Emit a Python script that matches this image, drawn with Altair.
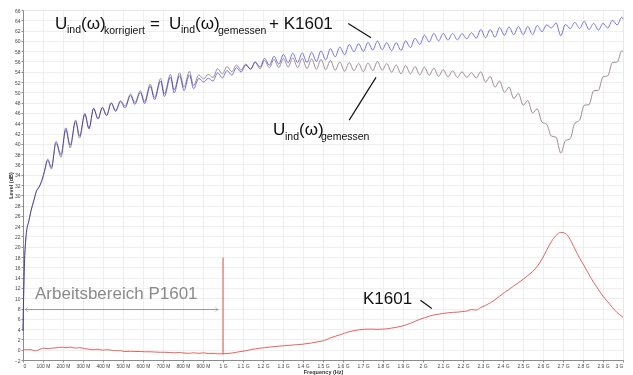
import altair as alt
import pandas as pd

# ---- data ----
freq_mhz = [0, 3, 8, 14, 22, 26, 40, 55, 67, 80, 92, 106, 124, 142, 165, 190, 214, 236, 263, 283,
            309, 330, 353, 375, 397, 418, 441, 463, 488, 510, 538, 559, 587, 608, 636, 658, 688, 707,
            737, 756, 783, 805, 832, 853, 879, 903, 926, 950, 973, 997, 1020, 1044, 1067, 1090, 1114,
            1138, 1161, 1185, 1208, 1232, 1255, 1279, 1302, 1326, 1349, 1373, 1396, 1420, 1443, 1467,
            1490, 1514, 1537, 1561, 1584, 1608, 1631, 1655, 1678, 1702, 1725, 1749, 1772, 1796, 1819,
            1843, 1866, 1890, 1913, 1937, 1960, 1984, 2007, 2031, 2054, 2078, 2101, 2125, 2148, 2172,
            2195, 2219, 2242, 2266, 2289, 2313, 2336, 2360, 2383, 2407, 2430, 2454, 2477, 2501, 2524,
            2548, 2571, 2595, 2618, 2642, 2665, 2689, 2712, 2736, 2759, 2783, 2806, 2830, 2853, 2877,
            2900, 2924, 2947, 2971, 2994, 3000]

u_gemessen = [3.6, 10.0, 17.5, 21.5, 24.0, 24.5, 27.0, 29.2, 30.9, 31.6, 32.5, 34.3, 36.8, 35.1, 40.1,
              37.4, 42.7, 39.2, 44.3, 41.1, 45.7, 42.9, 46.9, 44.8, 47.1, 45.5, 48.0, 46.5, 48.4, 47.3,
              49.7, 48.0, 50.3, 48.2, 51.6, 49.0, 52.7, 49.7, 53.5, 50.5, 53.8, 51.0, 54.1, 51.3, 53.4,
              52.6, 53.5, 52.9, 54.6, 53.6, 55.0, 54.0, 55.3, 54.3, 55.5, 54.5, 55.8, 54.6, 56.2, 54.8,
              56.4, 54.8, 56.6, 54.9, 56.7, 54.8, 56.6, 54.6, 56.5, 54.5, 56.4, 54.4, 56.2, 54.3, 55.9,
              54.1, 55.8, 54.2, 55.6, 54.0, 55.7, 54.2, 56.0, 54.3, 55.6, 53.9, 55.3, 53.6, 55.2, 53.6,
              55.0, 53.4, 54.9, 53.3, 54.7, 53.1, 54.4, 53.0, 54.2, 52.9, 54.0, 52.9, 53.8, 52.8, 54.0,
              52.0, 53.1, 51.0, 52.2, 50.0, 51.0, 48.8, 49.8, 47.5, 48.4, 46.0, 46.8, 44.2, 43.8, 41.5,
              41.3, 38.2, 40.6, 41.0, 44.0, 44.6, 47.5, 47.6, 50.3, 50.4, 53.0, 53.2, 55.8, 55.9, 58.1,
              57.9]

k1601 = [0.05, 0.05, 0.05, 0.0, 0.0, 0.0, 0.0, -0.2, -0.2, 0.0, 0.2, 0.3, 0.2, 0.3, 0.35, 0.5, 0.4,
         0.5, 0.3, 0.4, 0.2, 0.1, 0.0, 0.1, -0.1, 0.0, -0.1, -0.2, -0.2, -0.35, -0.3, -0.35, -0.35,
         -0.4, -0.4, -0.45, -0.5, -0.5, -0.55, -0.6, -0.55, -0.65, -0.7, -0.6, -0.7, -0.6, -0.75, -0.7,
         -0.8, -0.8, -0.75, -0.65, -0.5, -0.35, -0.2, 0.0, 0.15, 0.3, 0.4, 0.5, 0.6, 0.7, 0.75, 0.85,
         0.9, 1.0, 1.05, 1.2, 1.3, 1.5, 1.65, 1.9, 2.3, 2.6, 2.9, 3.2, 3.5, 3.7, 3.85, 3.95, 4.0, 4.0,
         3.95, 4.0, 4.05, 4.2, 4.35, 4.55, 4.8, 5.1, 5.5, 5.9, 6.2, 6.5, 6.75, 6.9, 7.05, 7.15, 7.25,
         7.3, 7.4, 7.5, 7.8, 7.7, 8.2, 8.6, 9.1, 9.7, 10.4, 11.1, 11.7, 12.4, 13.0, 13.7, 14.4, 15.2,
         16.2, 17.6, 19.3, 21.0, 22.2, 22.8, 22.6, 21.4, 19.6, 17.8, 16.3, 14.6, 13.1, 11.7, 10.4, 9.3,
         8.2, 7.2, 6.5, 6.3]

assert len(freq_mhz) == len(u_gemessen) == len(k1601)

# U_ind(w)_korrigiert = U_ind(w)_gemessen + K1601 (as stated in the chart)
df = pd.DataFrame({"f": freq_mhz, "gemessen": u_gemessen, "k1601": k1601})
df["korrigiert"] = (df["gemessen"] + df["k1601"]).round(2)

y_ticks = list(range(-2, 67, 2))
x_ticks = list(range(0, 3001, 100))

FONT = "Liberation Sans"
C_KORR = "#7272ec"
C_GEM = "#a08c98"
C_K = "#e8625c"

X_SCALE = alt.Scale(domain=[0, 3000], nice=False, zero=False)
Y_SCALE = alt.Scale(domain=[-2, 66], nice=False, zero=False)
X_AXIS = alt.Axis(values=x_ticks, title="Frequency (Hz)", labelOverlap=False,
                  labelExpr="datum.value == 0 ? '0' : (datum.value < 1000 ? datum.value + ' M' : (datum.value / 1000) + ' G')")
Y_AXIS = alt.Axis(values=y_ticks, title="Level (dB)", labelOverlap=False)


def X(field):
    return alt.X(f"{field}:Q", scale=X_SCALE, axis=X_AXIS)


def Y(field):
    return alt.Y(f"{field}:Q", scale=Y_SCALE, axis=Y_AXIS)


base = alt.Chart(df)
line_k = base.mark_line(color=C_K, strokeWidth=1, interpolate="monotone").encode(x=X("f"), y=Y("k1601"))
line_gem = base.mark_line(color=C_GEM, strokeWidth=1, interpolate="monotone").encode(x=X("f"), y=Y("gemessen"))
line_korr = base.mark_line(color=C_KORR, strokeWidth=1, blend="multiply", interpolate="monotone").encode(
    x=X("f"), y=Y("korrigiert"))

# ---- annotations (in data coordinates) ----
red_rule = alt.Chart(pd.DataFrame({"f": [1000], "v1": [-0.9], "v2": [17.9]})).mark_rule(
    color="#e0504a", strokeWidth=1).encode(x=X("f"), y=Y("v1"), y2="v2:Q")

arrow_line = alt.Chart(pd.DataFrame({"f1": [8], "f2": [978], "v": [7.8]})).mark_rule(
    color="#9a9a9a", strokeWidth=1).encode(x=X("f1"), x2="f2:Q", y=Y("v"))
head_l = alt.Chart(pd.DataFrame({"f": [18], "v": [7.8]})).mark_point(
    shape="M 0.5 -1 L -0.5 0 L 0.5 1", filled=False, color="#9a9a9a", size=20, strokeWidth=1).encode(
    x=X("f"), y=Y("v"))
head_r = alt.Chart(pd.DataFrame({"f": [968], "v": [7.8]})).mark_point(
    shape="M -0.5 -1 L 0.5 0 L -0.5 1", filled=False, color="#9a9a9a", size=20, strokeWidth=1).encode(
    x=X("f"), y=Y("v"))

leaders = alt.Chart(pd.DataFrame({
    "f1": [1626, 1631, 1987], "f2": [1740, 1765, 2044],
    "v1": [63.4, 44.6, 9.6], "v2": [60.6, 52.9, 8.0]})).mark_rule(color="#111111", strokeWidth=1.2).encode(
    x=X("f1"), x2="f2:Q", y=Y("v1"), y2="v2:Q")

# text pieces: (text, f, v, dx, dy, size, color)
pieces = [
    ("U", 160, 62.4, 0, 0, 17, "#111111"),
    ("ind", 160, 62.4, 12, 4, 10.5, "#111111"),
    ("(ω)", 160, 62.4, 26, 0, 17, "#111111"),
    ("korrigiert", 160, 62.4, 49, 5, 10.5, "#111111"),
    ("=", 160, 62.4, 95, 0, 17, "#111111"),
    ("U", 160, 62.4, 114, 0, 17, "#111111"),
    ("ind", 160, 62.4, 126, 4, 10.5, "#111111"),
    ("(ω)", 160, 62.4, 140, 0, 17, "#111111"),
    ("gemessen", 160, 62.4, 163, 5, 10.5, "#111111"),
    ("+ K1601", 160, 62.4, 214, 0, 17, "#111111"),
    ("U", 1250, 41.7, 0, 0, 17, "#111111"),
    ("ind", 1250, 41.7, 12, 4.5, 10.5, "#111111"),
    ("(ω)", 1250, 41.7, 26, 0, 17, "#111111"),
    ("gemessen", 1250, 41.7, 48, 5, 10.5, "#111111"),
    ("K1601", 1700, 8.8, 0, 0, 17, "#111111"),
    ("Arbeitsbereich P1601", 60, 9.9, 0, 0, 17, "#8a8a8a"),
]
text_layers = []
for t, f, v, dx, dy, size, col in pieces:
    text_layers.append(
        alt.Chart(pd.DataFrame({"f": [f], "v": [v], "t": [t]})).mark_text(
            align="left", baseline="alphabetic", dx=dx, dy=dy, fontSize=size, font=FONT, color=col
        ).encode(x=X("f"), y=Y("v"), text="t:N")
    )

chart = alt.layer(
    line_k, line_gem, line_korr, red_rule, arrow_line, head_l, head_r, leaders, *text_layers
).properties(width=600, height=350, padding=0).configure_view(stroke="#e4e4e4").configure_axis(
    grid=True, gridColor="#e8e8e8", gridWidth=0.7, domainColor="#8c8c8c", tickColor="#8c8c8c",
    tickSize=2, labelFontSize=5, labelColor="#444444", labelFont=FONT, labelPadding=1,
    titleFontSize=5.5, titleFont=FONT, titleFontWeight="bold", titleColor="#333333", titlePadding=1
)

chart.save("out.html", embed_options={"renderer": "svg", "actions": False})
